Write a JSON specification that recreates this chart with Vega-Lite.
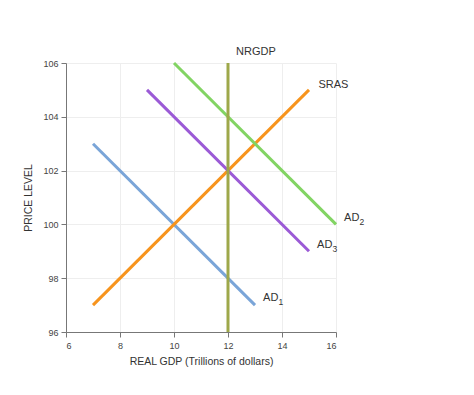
{
  "$schema": "https://vega.github.io/schema/vega-lite/v6.json",
  "width": 270,
  "height": 269,
  "autosize": {"type": "none"},
  "padding": {"left": 66, "top": 63, "right": 138, "bottom": 63},
  "background": "white",
  "config": {
    "font": "Liberation Sans",
    "view": {"stroke": null},
    "axis": {
      "labelFont": "Liberation Sans",
      "titleFont": "Liberation Sans",
      "labelFontSize": 9,
      "labelColor": "#444",
      "titleFontSize": 10.5,
      "titleFontWeight": "normal",
      "titleColor": "#333",
      "domainColor": "#777",
      "tickColor": "#777",
      "gridColor": "#eeeeee",
      "tickSize": 5
    }
  },
  "datasets": {
    "lines": [
      {"series": "AD1", "x": 7, "y": 103},
      {"series": "AD1", "x": 13, "y": 97},
      {"series": "SRAS", "x": 7, "y": 97},
      {"series": "SRAS", "x": 15, "y": 105},
      {"series": "AD3", "x": 9, "y": 105},
      {"series": "AD3", "x": 15, "y": 99},
      {"series": "AD2", "x": 10, "y": 106},
      {"series": "AD2", "x": 16, "y": 100},
      {"series": "NRGDP", "x": 12, "y": 96},
      {"series": "NRGDP", "x": 12, "y": 106}
    ],
    "labels": [
      {"main": "NRGDP", "sub": "", "x": 12.3, "y": 106.4},
      {"main": "SRAS", "sub": "", "x": 15.35, "y": 105.2},
      {"main": "AD", "sub": "2", "x": 16.3, "y": 100.25},
      {"main": "AD", "sub": "3", "x": 15.3, "y": 99.25},
      {"main": "AD", "sub": "1", "x": 13.3, "y": 97.25}
    ]
  },
  "layer": [
    {
      "data": {"name": "lines"},
      "mark": {"type": "line", "strokeWidth": 3, "strokeCap": "butt"},
      "encoding": {
        "x": {
          "field": "x", "type": "quantitative",
          "scale": {"domain": [6, 16], "nice": false},
          "axis": {"values": [6, 8, 10, 12, 14, 16], "title": "REAL GDP (Trillions of dollars)", "titlePadding": 6, "labelPadding": 4}
        },
        "y": {
          "field": "y", "type": "quantitative",
          "scale": {"domain": [96, 106], "nice": false, "zero": false},
          "axis": {"values": [96, 98, 100, 102, 104, 106], "title": "PRICE LEVEL", "titlePadding": 9, "labelPadding": 3}
        },
        "color": {
          "field": "series", "type": "nominal",
          "scale": {
            "domain": ["AD1", "SRAS", "AD3", "AD2", "NRGDP"],
            "range": ["#7aa5d8", "#f7941d", "#9b5ad6", "#82d463", "#9ea84a"]
          },
          "legend": null
        },
        "order": {"field": "x"}
      }
    },
    {
      "data": {"name": "labels"},
      "mark": {"type": "text", "align": "left", "baseline": "middle", "fontSize": 11, "color": "#333", "font": "Liberation Sans"},
      "encoding": {
        "x": {"field": "x", "type": "quantitative"},
        "y": {"field": "y", "type": "quantitative"},
        "text": {"field": "main"}
      }
    },
    {
      "data": {"name": "labels"},
      "transform": [{"filter": "datum.sub != ''"}],
      "mark": {"type": "text", "align": "left", "baseline": "middle", "fontSize": 8.5, "color": "#333", "dx": 15.5, "dy": 4, "font": "Liberation Sans"},
      "encoding": {
        "x": {"field": "x", "type": "quantitative"},
        "y": {"field": "y", "type": "quantitative"},
        "text": {"field": "sub"}
      }
    }
  ]
}
